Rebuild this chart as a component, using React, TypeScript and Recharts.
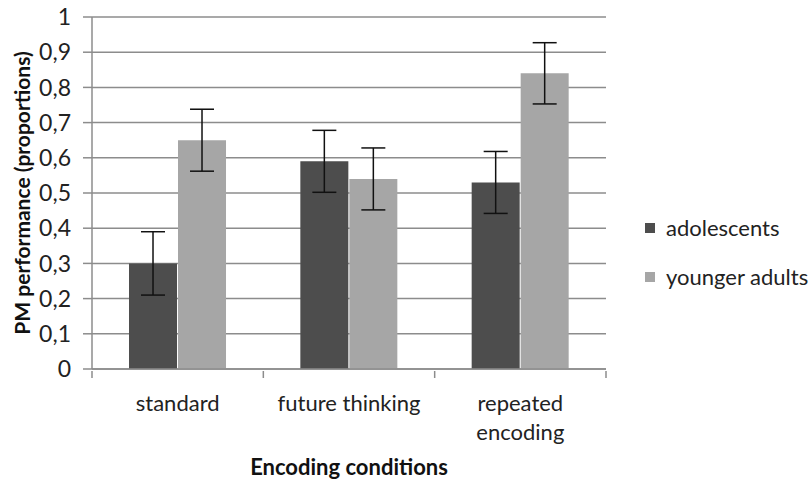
import { BarChart, Bar, XAxis, YAxis, CartesianGrid, ErrorBar, Legend } from "recharts";

const categories = ["standard", "future thinking", "repeated encoding"];
const adolescents = [0.3, 0.59, 0.53];
const adolescentsErr = [0.09, 0.088, 0.088];
const youngerAdults = [0.65, 0.54, 0.84];
const youngerAdultsErr = [0.088, 0.088, 0.087];
const yTicks = [0, 0.1, 0.2, 0.3, 0.4, 0.5, 0.6, 0.7, 0.8, 0.9, 1];

const data = categories.map((name, i) => ({
  name,
  adolescents: adolescents[i],
  adolescentsErr: adolescentsErr[i],
  youngerAdults: youngerAdults[i],
  youngerAdultsErr: youngerAdultsErr[i],
}));

const FONT = "Lato, 'Open Sans', sans-serif";
const DARK = "#4d4d4d";
const LIGHT = "#a6a6a6";
const GRID = "#8c8c8c";
const BAND = (606 - 92) / categories.length;

// excel wraps the long label onto two lines
function wrapLabel(s: string): string[] {
  if (s.length <= 15) return [s];
  const i = s.lastIndexOf(" ");
  return [s.slice(0, i), s.slice(i + 1)];
}

function CategoryTick(props: any) {
  const { x, y, payload, index } = props;
  const left = x - BAND / 2;
  const lines = wrapLabel(payload.value);
  return (
    <g>
      <line x1={left} y1={y} x2={left} y2={y + 7} stroke={GRID} strokeWidth={1.5} />
      {index === categories.length - 1 && (
        <line x1={x + BAND / 2} y1={y} x2={x + BAND / 2} y2={y + 7} stroke={GRID} strokeWidth={1.5} />
      )}
      {lines.map((l, i) => (
        <text
          key={i}
          x={x}
          y={y + 31 + i * 29}
          textAnchor="middle"
          dominantBaseline="central"
          style={{ fontFamily: FONT, fontSize: 22, fill: "#222" }}
        >
          {l}
        </text>
      ))}
    </g>
  );
}

function LegendContent() {
  const items = [
    { label: "adolescents", color: DARK },
    { label: "younger adults", color: LIGHT },
  ];
  return (
    <div style={{ fontFamily: FONT, fontSize: 22, color: "#222" }}>
      {items.map((it) => (
        <div key={it.label} style={{ display: "flex", alignItems: "center", height: 49 }}>
          <span style={{ width: 10, height: 10, background: it.color, marginRight: 11, display: "inline-block" }} />
          {it.label}
        </div>
      ))}
    </div>
  );
}

export default function App() {
  return (
    <div style={{ position: "absolute", left: 0, top: 0, width: 810, height: 481, background: "#fff" }}>
      <BarChart
        width={810}
        height={481}
        data={data}
        margin={{ top: 17, right: 39, left: 0, bottom: 0 }}
        barGap={1}
        barCategoryGap="21.6%"
      >
        <CartesianGrid vertical={false} stroke={GRID} strokeWidth={1.5} />
        <YAxis
          width={92}
          domain={[0, 1]}
          ticks={yTicks}
          interval={0}
          tickFormatter={(v: number) => String(v).replace(".", ",")}
          tick={{ fontFamily: FONT, fontSize: 23, fill: "#222" }}
          tickSize={9}
          tickMargin={12}
          axisLine={{ stroke: GRID, strokeWidth: 1.5 }}
          tickLine={{ stroke: GRID, strokeWidth: 1.5 }}
          label={{
            content: ({ viewBox }: any) => (
              <text
                x={0}
                y={0}
                transform={`translate(21, ${viewBox.y + viewBox.height / 2}) rotate(-90)`}
                textAnchor="middle"
                dominantBaseline="central"
                style={{ fontFamily: FONT, fontSize: 21, fontWeight: 700, fill: "#111" }}
              >
                PM performance (proportions)
              </text>
            ),
          }}
        />
        <XAxis
          dataKey="name"
          height={112}
          interval={0}
          tickSize={0}
          tickLine={false}
          axisLine={{ stroke: GRID, strokeWidth: 1.5 }}
          tick={<CategoryTick />}
          label={{
            content: ({ viewBox }: any) => (
              <text
                x={viewBox.x + viewBox.width / 2}
                y={466}
                textAnchor="middle"
                dominantBaseline="central"
                style={{ fontFamily: FONT, fontSize: 22, fontWeight: 700, fill: "#111" }}
              >
                Encoding conditions
              </text>
            ),
          }}
        />
        <Legend
          layout="vertical"
          align="right"
          verticalAlign="middle"
          content={<LegendContent />}
          wrapperStyle={{ position: "absolute", left: 645, top: 203, width: 165 }}
        />
        <Bar dataKey="adolescents" fill={DARK} isAnimationActive={false}>
          <ErrorBar dataKey="adolescentsErr" width={12} stroke="#111" strokeWidth={1.5} />
        </Bar>
        <Bar dataKey="youngerAdults" fill={LIGHT} isAnimationActive={false}>
          <ErrorBar dataKey="youngerAdultsErr" width={12} stroke="#111" strokeWidth={1.5} />
        </Bar>
      </BarChart>
    </div>
  );
}
